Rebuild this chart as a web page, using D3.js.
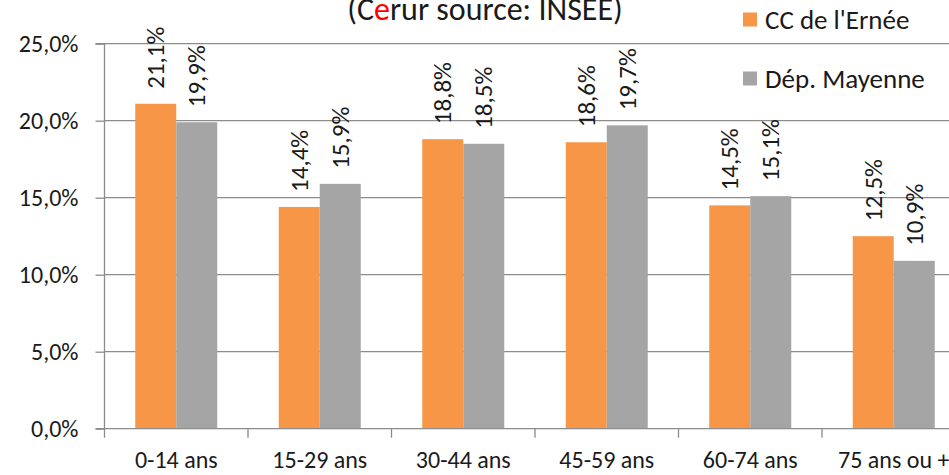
<!DOCTYPE html>
<html><head><meta charset="utf-8">
<script src="https://cdn.jsdelivr.net/npm/d3@7"></script>
<style>body{margin:0;background:#fff;} svg{display:block;} text{font-family:Carlito, Lato, sans-serif;fill:#1a1a1a;}</style>
</head><body>
<svg id="c" width="949" height="475"></svg>
<script>
const categories = ["0-14 ans","15-29 ans","30-44 ans","45-59 ans","60-74 ans","75 ans ou +"];
const seriesNames = ["CC de l'Ernée","Dép. Mayenne"];
const ernee = [21.1,14.4,18.8,18.6,14.5,12.5];
const mayenne = [19.9,15.9,18.5,19.7,15.1,10.9];
const yTicks = [0,5,10,15,20,25];
const colors = ["#F79646","#A5A5A5"];

const svg = d3.select("#c");
const pLeft = 104.5, pRight = 965.5, pTop = 43.7, pBottom = 428.7;
const x0 = d3.scaleBand().domain(categories).range([pLeft,pRight]).padding(0);
const x1 = d3.scaleBand().domain(seriesNames).range([0,x0.bandwidth()]).paddingInner(0).paddingOuter(0.75);
const y = d3.scaleLinear().domain([0,25]).range([pBottom,pTop]);
const fmt = v => d3.format(".1f")(v).replace(".",",") + "%";

// gridlines
svg.append("g").selectAll("line").data(yTicks.filter(d=>d>0)).join("line")
  .attr("x1",pLeft).attr("x2",949).attr("y1",d=>y(d)).attr("y2",d=>y(d))
  .attr("stroke","#8c8c8c").attr("stroke-width",1.3);

// bars
const data = categories.map((c,i)=>({c, vals:[ernee[i],mayenne[i]]}));
const g = svg.append("g").selectAll("g").data(data).join("g")
  .attr("transform",d=>`translate(${x0(d.c)},0)`);
g.selectAll("rect").data(d=>d.vals.map((v,j)=>({v,s:seriesNames[j],j}))).join("rect")
  .attr("x",d=>x1(d.s)).attr("width",x1.bandwidth())
  .attr("y",d=>y(d.v)).attr("height",d=>y(0)-y(d.v))
  .attr("fill",d=>colors[d.j]);
g.selectAll("text").data(d=>d.vals.map((v,j)=>({v,s:seriesNames[j],j}))).join("text")
  .attr("transform",d=>`translate(${x1(d.s)+x1.bandwidth()/2},${y(d.v)-15}) rotate(-90)`)
  .attr("dominant-baseline","central").attr("text-anchor","start")
  .style("font-size","25px").text(d=>fmt(d.v));

// y axis
const ya = svg.append("g").attr("transform",`translate(${pLeft},0)`)
  .call(d3.axisLeft(y).tickValues(yTicks).tickFormat(d=>d3.format(".1f")(d).replace(".",",")+"%").tickSize(9).tickPadding(17));
ya.select(".domain").attr("stroke","#8c8c8c").attr("stroke-width",1.3).attr("d",`M-9,${pTop}H0V${pBottom}H-9`);
ya.selectAll(".tick line").attr("stroke","#8c8c8c").attr("stroke-width",1.3);
ya.selectAll(".tick text").style("font-size","24px").attr("fill","#1a1a1a");

// x axis
const xa = svg.append("g").attr("transform",`translate(0,${pBottom})`)
  .call(d3.axisBottom(x0).tickSize(0));
xa.select(".domain").remove();
xa.selectAll(".tick text").attr("dy",null).attr("y",39.6).style("font-size","24px").attr("fill","#1a1a1a");
svg.append("line").attr("x1",pLeft).attr("x2",949).attr("y1",pBottom).attr("y2",pBottom).attr("stroke","#8c8c8c").attr("stroke-width",1.3);
svg.append("g").selectAll("line").data(categories).join("line")
  .attr("x1",d=>x0(d)).attr("x2",d=>x0(d)).attr("y1",pBottom).attr("y2",pBottom+9)
  .attr("stroke","#8c8c8c").attr("stroke-width",1.3);

// title
const t = svg.append("text").attr("x",485).attr("y",19.5).attr("text-anchor","middle").style("font-size","32px");
t.append("tspan").text("(C");
t.append("tspan").style("fill","#ff0000").text("e");
t.append("tspan").text("rur source: INSEE)");

// legend
const lg = svg.append("g");
seriesNames.forEach((s,i)=>{
  const yy = [12.5,71.5][i];
  lg.append("rect").attr("x",743).attr("y",yy).attr("width",14).attr("height",14).attr("fill",colors[i]);
  lg.append("text").attr("x",765).attr("y",yy+16).style("font-size","27px").text(s);
});
</script>
</body></html>
